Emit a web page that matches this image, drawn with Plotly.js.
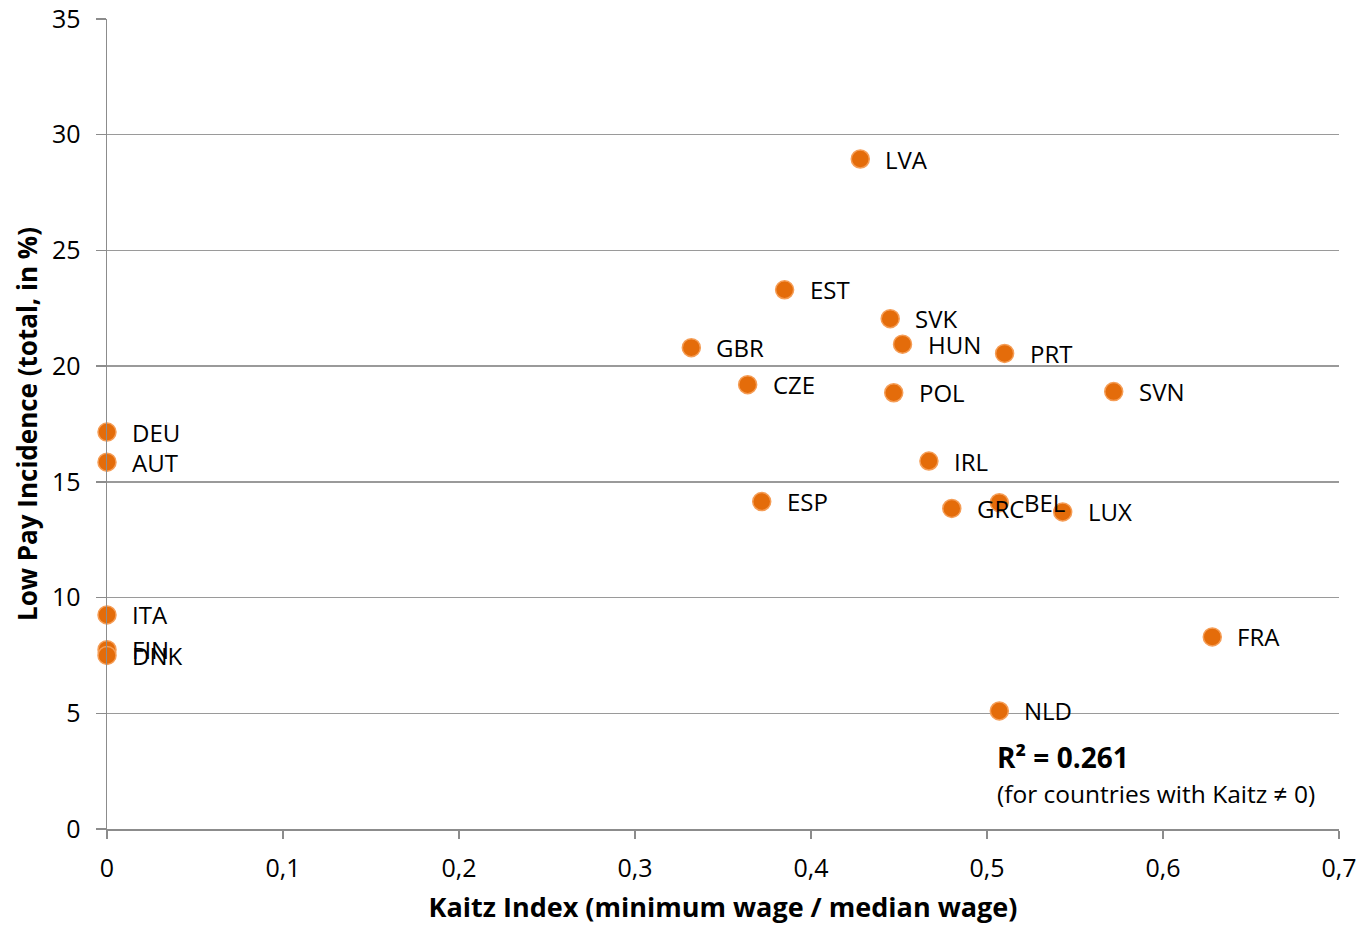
<!DOCTYPE html>
<html>
<head>
<meta charset="utf-8">
<script src="https://cdn.plot.ly/plotly-3.0.1.min.js"></script>
<style>html,body{margin:0;padding:0;background:#fff;}#chart{width:1361px;height:926px;}</style>
</head>
<body>
<div id="chart"></div>
<script>
const countries = ["LVA","EST","SVK","HUN","PRT","GBR","CZE","POL","SVN","DEU","AUT","IRL","ESP","GRC","BEL","LUX","ITA","FIN","DNK","FRA","NLD"];
const kaitz = [0.428,0.385,0.445,0.452,0.510,0.332,0.364,0.447,0.572,0,0,0.467,0.372,0.480,0.507,0.543,0,0,0,0.628,0.507];
const lowPay = [28.95,23.3,22.05,20.95,20.55,20.8,19.2,18.85,18.9,17.15,15.85,15.9,14.15,13.85,14.1,13.7,9.25,7.75,7.5,8.3,5.1];
const xTickVals = [0,0.1,0.2,0.3,0.4,0.5,0.6,0.7];
const xTickText = ["0","0,1","0,2","0,3","0,4","0,5","0,6","0,7"];
const yTickVals = [0,5,10,15,20,25,30,35];

const font = "Open Sans, Noto Sans, sans-serif";

const trace = {
  x: kaitz, y: lowPay, mode: "markers", type: "scatter",
  marker: {size: 18, color: "#E46C0A", line: {color: "#F59D56", width: 1.5}},
  cliponaxis: false, hoverinfo: "skip"
};

const annotations = countries.map((c, i) => ({
  x: kaitz[i], y: lowPay[i], xref: "x", yref: "y", text: c, showarrow: false,
  xanchor: "left", yanchor: "middle", xshift: 23, yshift: 0,
  font: {family: font, size: 24, color: "#000"}
}));
annotations.push({
  x: 0.5045, y: 3.1, xref: "x", yref: "y", text: "<b>R² = 0.261</b>", showarrow: false,
  xanchor: "left", yanchor: "middle", font: {family: font, size: 28, color: "#000"}
});
annotations.push({
  x: 0.5045, y: 1.55, xref: "x", yref: "y", text: "(for countries with Kaitz ≠ 0)", showarrow: false,
  xanchor: "left", yanchor: "middle", font: {family: font, size: 24.5, color: "#000"}
});

const layout = {
  width: 1361, height: 926,
  margin: {l: 107, r: 22, t: 19, b: 97},
  paper_bgcolor: "#fff", plot_bgcolor: "#fff",
  showlegend: false,
  font: {family: font, size: 24, color: "#000"},
  xaxis: {
    range: [0, 0.7], tickvals: xTickVals, ticktext: xTickText,
    showgrid: false, zeroline: false, showline: true, linecolor: "#8c8c8c", linewidth: 1.5,
    ticks: "outside", ticklen: 8, tickcolor: "#8c8c8c", tickwidth: 1.5,
    ticklabelstandoff: 8,
    tickfont: {family: font, size: 25, color: "#000"},
    title: {text: "<b>Kaitz Index (minimum wage / median wage)</b>", font: {family: font, size: 27, color: "#000"}, standoff: 15}
  },
  yaxis: {
    range: [0, 35], tickvals: yTickVals,
    showgrid: true, gridcolor: "#9a9a9a", gridwidth: 1.5, zeroline: false,
    showline: true, linecolor: "#8c8c8c", linewidth: 1.5,
    ticks: "outside", ticklen: 10, tickcolor: "#8c8c8c", tickwidth: 1.5,
    ticklabelstandoff: 10,
    tickfont: {family: font, size: 25, color: "#000"},
    title: {text: "<b>Low Pay Incidence (total, in %)</b>", font: {family: font, size: 26, color: "#000"}, standoff: 7}
  },
  annotations: annotations
};

Plotly.newPlot("chart", [trace], layout, {displayModeBar: false, staticPlot: true});
</script>
</body>
</html>
